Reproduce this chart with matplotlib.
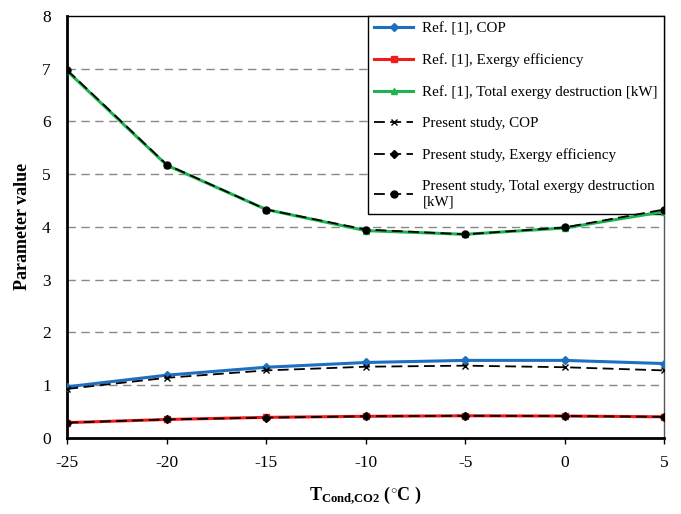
import matplotlib.pyplot as plt

plt.rcParams['font.family'] = ['Liberation Serif', 'DejaVu Serif']
plt.rcParams['mathtext.fontset'] = 'custom'
plt.rcParams['mathtext.rm'] = 'Liberation Serif'
plt.rcParams['mathtext.bf'] = 'Liberation Serif:bold'
plt.rcParams['axes.unicode_minus'] = False

temps = [-25, -20, -15, -10, -5, 0, 5]

ref_cop = [0.97, 1.19, 1.34, 1.43, 1.47, 1.47, 1.41]
ref_exergy_eff = [0.29, 0.35, 0.39, 0.41, 0.42, 0.415, 0.40]
ref_destruction = [6.95, 5.17, 4.33, 3.93, 3.86, 3.98, 4.29]

present_cop = [0.93, 1.14, 1.28, 1.35, 1.37, 1.34, 1.28]
present_exergy_eff = [0.29, 0.35, 0.385, 0.41, 0.42, 0.415, 0.40]
present_destruction = [6.97, 5.18, 4.33, 3.95, 3.86, 3.99, 4.33]

fig = plt.figure(figsize=(6.81, 5.14), dpi=100)
ax = fig.add_axes([0.099, 0.148, 0.876, 0.821])

for y in range(1, 8):
    ax.axhline(y, color='#888888', linestyle=(0, (6, 4)), linewidth=1.0, zorder=0)

ax.plot(temps, ref_cop, color='#1f6fc1', linewidth=2.2, marker='D', markersize=4,
        label='Ref. [1], COP', zorder=6)
ax.plot(temps, ref_exergy_eff, color='#ee1c1c', linewidth=2.2, marker='s', markersize=5,
        label='Ref. [1], Exergy efficiency', zorder=6)
ax.plot(temps, ref_destruction, color='#1db350', linewidth=2.2, marker='^', markersize=5,
        label='Ref. [1], Total exergy destruction [kW]', zorder=6)
ax.plot(temps, present_cop, color='black', linewidth=1.3, linestyle=(0, (6, 3)),
        marker='x', markersize=5, label='Present study, COP', zorder=7)
ax.plot(temps, present_exergy_eff, color='black', linewidth=1.3, linestyle=(0, (6, 3)),
        marker='D', markersize=4, label='Present study, Exergy efficiency', zorder=7)
ax.plot(temps, present_destruction, color='black', linewidth=1.3, linestyle=(0, (6, 3)),
        marker='o', markersize=5, label='Present study, Total exergy destruction\n[kW]',
        zorder=7)

ax.set_xlim(-25, 5)
ax.set_ylim(0, 8)
ax.set_xticks(temps)
ax.set_yticks(range(0, 9))
ax.tick_params(axis='x', labelsize=12.5, direction='out', length=4, width=1, pad=8)
ax.tick_params(axis='y', labelsize=12.5, length=0, pad=12)
ax.spines['top'].set_linewidth(1.0)
ax.spines['right'].set_linewidth(1.0)
ax.spines['right'].set_color('#555555')
ax.spines['left'].set_linewidth(2.0)
ax.spines['bottom'].set_linewidth(2.0)

ax.set_ylabel('Parameter value', fontsize=13, fontweight='bold', labelpad=8)
ax.set_xlabel(r'$\mathbf{T_{Cond{,}CO2}}$ ($^{\circ}$C )', fontsize=13, fontweight='bold',
              labelpad=10)

leg = ax.legend(loc='upper right', fontsize=10.8, frameon=True, fancybox=False,
                edgecolor='black', framealpha=1, borderaxespad=0.0, handlelength=2.6,
                labelspacing=1.2, handletextpad=0.6)
leg.get_frame().set_linewidth(1.0)
leg.set_zorder(5)

fig.savefig('out.png', dpi=100)
